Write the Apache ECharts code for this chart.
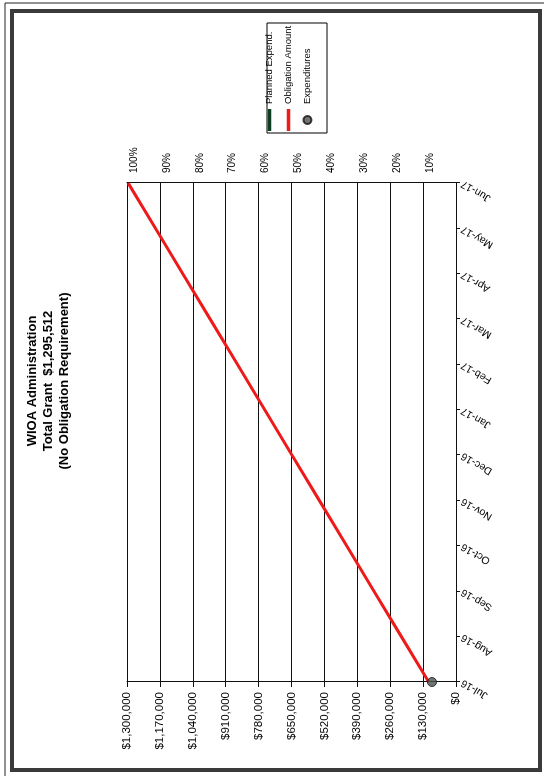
<!DOCTYPE html>
<html>
<head>
<meta charset="utf-8">
<script src="https://cdn.jsdelivr.net/npm/echarts@6/dist/echarts.min.js"></script>
<style>
html,body{margin:0;padding:0;background:#fff;overflow:hidden;width:544px;height:776px;}
#chart{position:absolute;width:776px;height:544px;left:-116px;top:116px;transform:rotate(-90deg);transform-origin:center center;}
</style>
</head>
<body>
<div id="chart"></div>
<script>
// ---- data ----
const months = ['Jul-16','Aug-16','Sep-16','Oct-16','Nov-16','Dec-16','Jan-17','Feb-17','Mar-17','Apr-17','May-17','Jun-17'];
const plannedExpend = [];
const obligationAmount = [107959, 215919, 323878, 431837, 539797, 647756, 755715, 863675, 971634, 1079593, 1187553, 1295512];
const expenditures = [95000];
const seriesNames = ['Planned Expend.', 'Obligation Amount', 'Expenditures'];
const titleLines = ['WIOA Administration', 'Total Grant  $1,295,512', '(No Obligation Requirement)'];
const dollarMin = 0, dollarMax = 1300000, dollarStep = 130000;
const pctMin = 0, pctMax = 100, pctStep = 10;

const FONT = '"Liberation Sans", Arial, sans-serif';
// legend line icon: a 22x3.5 bar inside an invisible 22x8 bounding box
const barIcon = 'path://M0,0L0.01,0ZM0,8L0.01,8ZM0,2.25L22,2.25L22,5.75L0,5.75Z';
const chart = echarts.init(document.getElementById('chart'), null, {renderer: 'canvas'});
chart.setOption({
  animation: false,
  backgroundColor: '#fff',
  textStyle: {fontFamily: FONT, color: '#000'},
  title: {
    text: titleLines.join('\n'),
    left: 395, top: 24, padding: 0, textAlign: 'center',
    textStyle: {fontFamily: FONT, fontSize: 13, fontWeight: 'bold', lineHeight: 16, color: '#000'}
  },
  legend: {
    orient: 'vertical', left: 645, top: 264.5, padding: 0,
    itemWidth: 22, itemHeight: 8, itemGap: 9,
    data: [
      {name: seriesNames[0], icon: barIcon},
      {name: seriesNames[1], icon: barIcon},
      {name: seriesNames[2], icon: 'circle'}
    ],
    textStyle: {fontFamily: FONT, fontSize: 9.5, color: '#000'}
  },
  grid: {left: 94, right: 183, top: 127, bottom: 88, containLabel: false, outerBoundsMode: 'none'},
  xAxis: {
    type: 'category', data: months, boundaryGap: false,
    axisLine: {show: true, lineStyle: {color: '#111', width: 1}},
    axisTick: {show: true, length: 4, lineStyle: {color: '#111'}},
    axisLabel: {rotate: 60, margin: 6, fontSize: 10.5, color: '#000', fontFamily: FONT, interval: 0},
    splitLine: {show: false}
  },
  yAxis: [
    {
      type: 'value', position: 'left', min: dollarMin, max: dollarMax, interval: dollarStep,
      axisLine: {show: true, lineStyle: {color: '#111', width: 1}},
      axisTick: {show: true, length: 5, lineStyle: {color: '#111'}},
      axisLabel: {margin: 10, fontSize: 11.5, color: '#000', fontFamily: FONT,
        formatter: v => '$' + v.toLocaleString('en-US')},
      splitLine: {show: true, lineStyle: {color: '#111', width: 1}}
    },
    {
      type: 'value', position: 'right', min: pctMin, max: pctMax, interval: pctStep,
      axisLine: {show: true, lineStyle: {color: '#111', width: 1}},
      axisTick: {show: false},
      axisLabel: {margin: 10, fontSize: 10, color: '#000', fontFamily: FONT, showMinLabel: false,
        verticalAlign: 'top', lineHeight: 14, formatter: '{value}%'},
      splitLine: {show: false}
    }
  ],
  graphic: [
    {type: 'rect', silent: true, shape: {x: -4, y: 5, width: 777, height: 545},
      style: {fill: 'none', stroke: '#222', lineWidth: 1}},
    {type: 'rect', silent: true, shape: {x: 6, y: 12, width: 759, height: 528},
      style: {fill: 'none', stroke: '#3a3a3a', lineWidth: 4}},
    {type: 'rect', silent: true, shape: {x: 643, y: 267, width: 110, height: 60},
      style: {fill: 'none', stroke: '#000', lineWidth: 1}}
  ],
  series: [
    {name: seriesNames[0], type: 'line', data: plannedExpend, symbol: 'none',
      itemStyle: {color: '#0d3d1f'}, lineStyle: {color: '#0d3d1f', width: 3}},
    {name: seriesNames[1], type: 'line', data: obligationAmount, symbol: 'none', z: 3,
      itemStyle: {color: '#ee1a1a'}, lineStyle: {color: '#ee1a1a', width: 3}},
    {name: seriesNames[2], type: 'scatter', data: expenditures, symbol: 'circle', symbolSize: 9, z: 4,
      itemStyle: {color: '#4b534d', borderColor: '#111', borderWidth: 1}}
  ]
});
</script>
</body>
</html>
